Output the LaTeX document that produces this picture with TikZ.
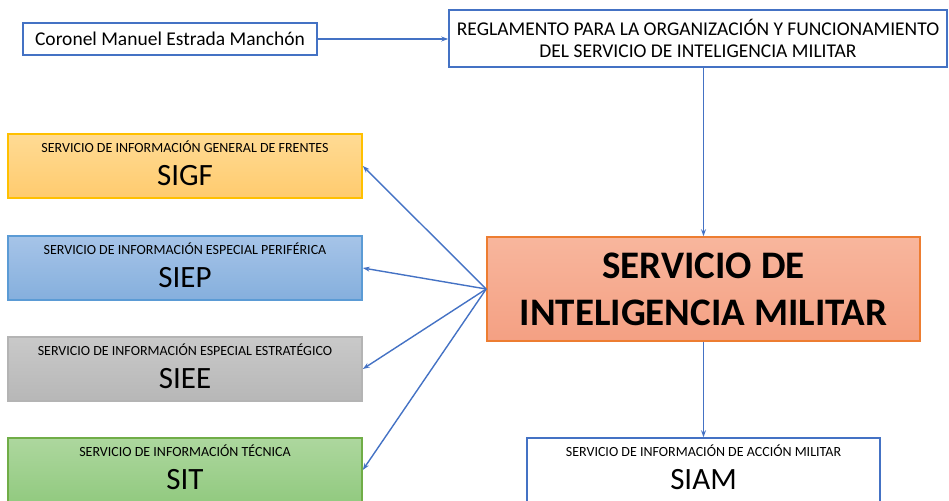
\documentclass[tikz,border=0pt]{standalone}
\usepackage{fontspec}
\setmainfont{Carlito}
\usetikzlibrary{arrows.meta,positioning}

\definecolor{linkblue}{HTML}{4472C4}
\definecolor{simline}{HTML}{ED7D31}
\definecolor{simtop}{HTML}{F8B69D}
\definecolor{simbot}{HTML}{F4A083}
\definecolor{sigfline}{HTML}{FFC000}
\definecolor{sigftop}{HTML}{FFDB94}
\definecolor{sigfbot}{HTML}{FFCB6E}
\definecolor{siepline}{HTML}{5B9BD5}
\definecolor{sieptop}{HTML}{A6C4E8}
\definecolor{siepbot}{HTML}{85AFDD}
\definecolor{sieeline}{HTML}{B4B4B4}
\definecolor{sieetop}{HTML}{C9C9C9}
\definecolor{sieebot}{HTML}{B7B7B7}
\definecolor{sitline}{HTML}{70AD47}
\definecolor{sittop}{HTML}{ADD79E}
\definecolor{sitbot}{HTML}{92CA80}

\newcommand{\smalltxt}{\fontsize{14}{16}\selectfont}
\newcommand{\bigtxt}[1]{\fontsize{31}{34}\selectfont #1\rule[-6pt]{0pt}{6pt}}
\tikzset{
  box/.style={rectangle, draw=linkblue, line width=1.6pt, fill=white, align=center, inner sep=0pt},
  unit/.style={rectangle, line width=1.6pt, align=center, inner sep=0pt,
    minimum width=354pt, minimum height=64pt, font=\smalltxt},
  link/.style={->, draw=linkblue, line width=1.4pt},
}

\begin{document}
\begin{tikzpicture}[x=1pt, y=-1pt, >={Stealth[length=7pt,width=5pt]}]
\useasboundingbox (0,0) rectangle (949,500);
\clip (0,0) rectangle (949,500);

\node[box, minimum width=294pt, minimum height=32pt, font=\fontsize{19.5}{22}\selectfont] (author) at (170,39)
  {Coronel Manuel Estrada Manchón};
\node[box, minimum width=498pt, minimum height=57pt, font=\fontsize{19.5}{22.5}\selectfont] (rule) at (698,38.5)
  {REGLAMENTO PARA LA ORGANIZACIÓN Y FUNCIONAMIENTO\\ DEL SERVICIO DE INTELIGENCIA MILITAR};

\node[rectangle, draw=simline, line width=1.6pt, top color=simtop, bottom color=simbot,
  minimum width=433pt, minimum height=104pt, align=center, inner sep=0pt,
  font=\fontsize{39}{47}\selectfont\bfseries] (sim) at (703.5,289)
  {SERVICIO DE\\ INTELIGENCIA MILITAR};

\node[unit, draw=sigfline, top color=sigftop, bottom color=sigfbot] (sigf) at (185,166)
  {SERVICIO DE INFORMACIÓN GENERAL DE FRENTES\\[12pt] \bigtxt{SIGF}};
\node[unit, draw=siepline, top color=sieptop, bottom color=siepbot] (siep) at (185,268)
  {SERVICIO DE INFORMACIÓN ESPECIAL PERIFÉRICA\\[12pt] \bigtxt{SIEP}};
\node[unit, draw=sieeline, top color=sieetop, bottom color=sieebot] (siee) at (185,369)
  {SERVICIO DE INFORMACIÓN ESPECIAL ESTRATÉGICO\\[12pt] \bigtxt{SIEE}};
\node[unit, draw=sitline, top color=sittop, bottom color=sitbot] (sit) at (185,470)
  {SERVICIO DE INFORMACIÓN TÉCNICA\\[12pt] \bigtxt{SIT}};

\node[box, minimum width=353pt, minimum height=64pt, font=\smalltxt] (siam) at (703.5,470)
  {SERVICIO DE INFORMACIÓN DE ACCIÓN MILITAR\\[12pt] \bigtxt{SIAM}};

% connectors
\draw[link] (author.east) -- (author.east -| rule.west);
\draw[link] (sim.north |- rule.south) -- (sim.north);
\draw[link] (sim.south) -- (siam.north);
\foreach \n in {sigf,siep,siee,sit}
  \draw[link] (sim.west) -- (\n.east);
\end{tikzpicture}
\end{document}
